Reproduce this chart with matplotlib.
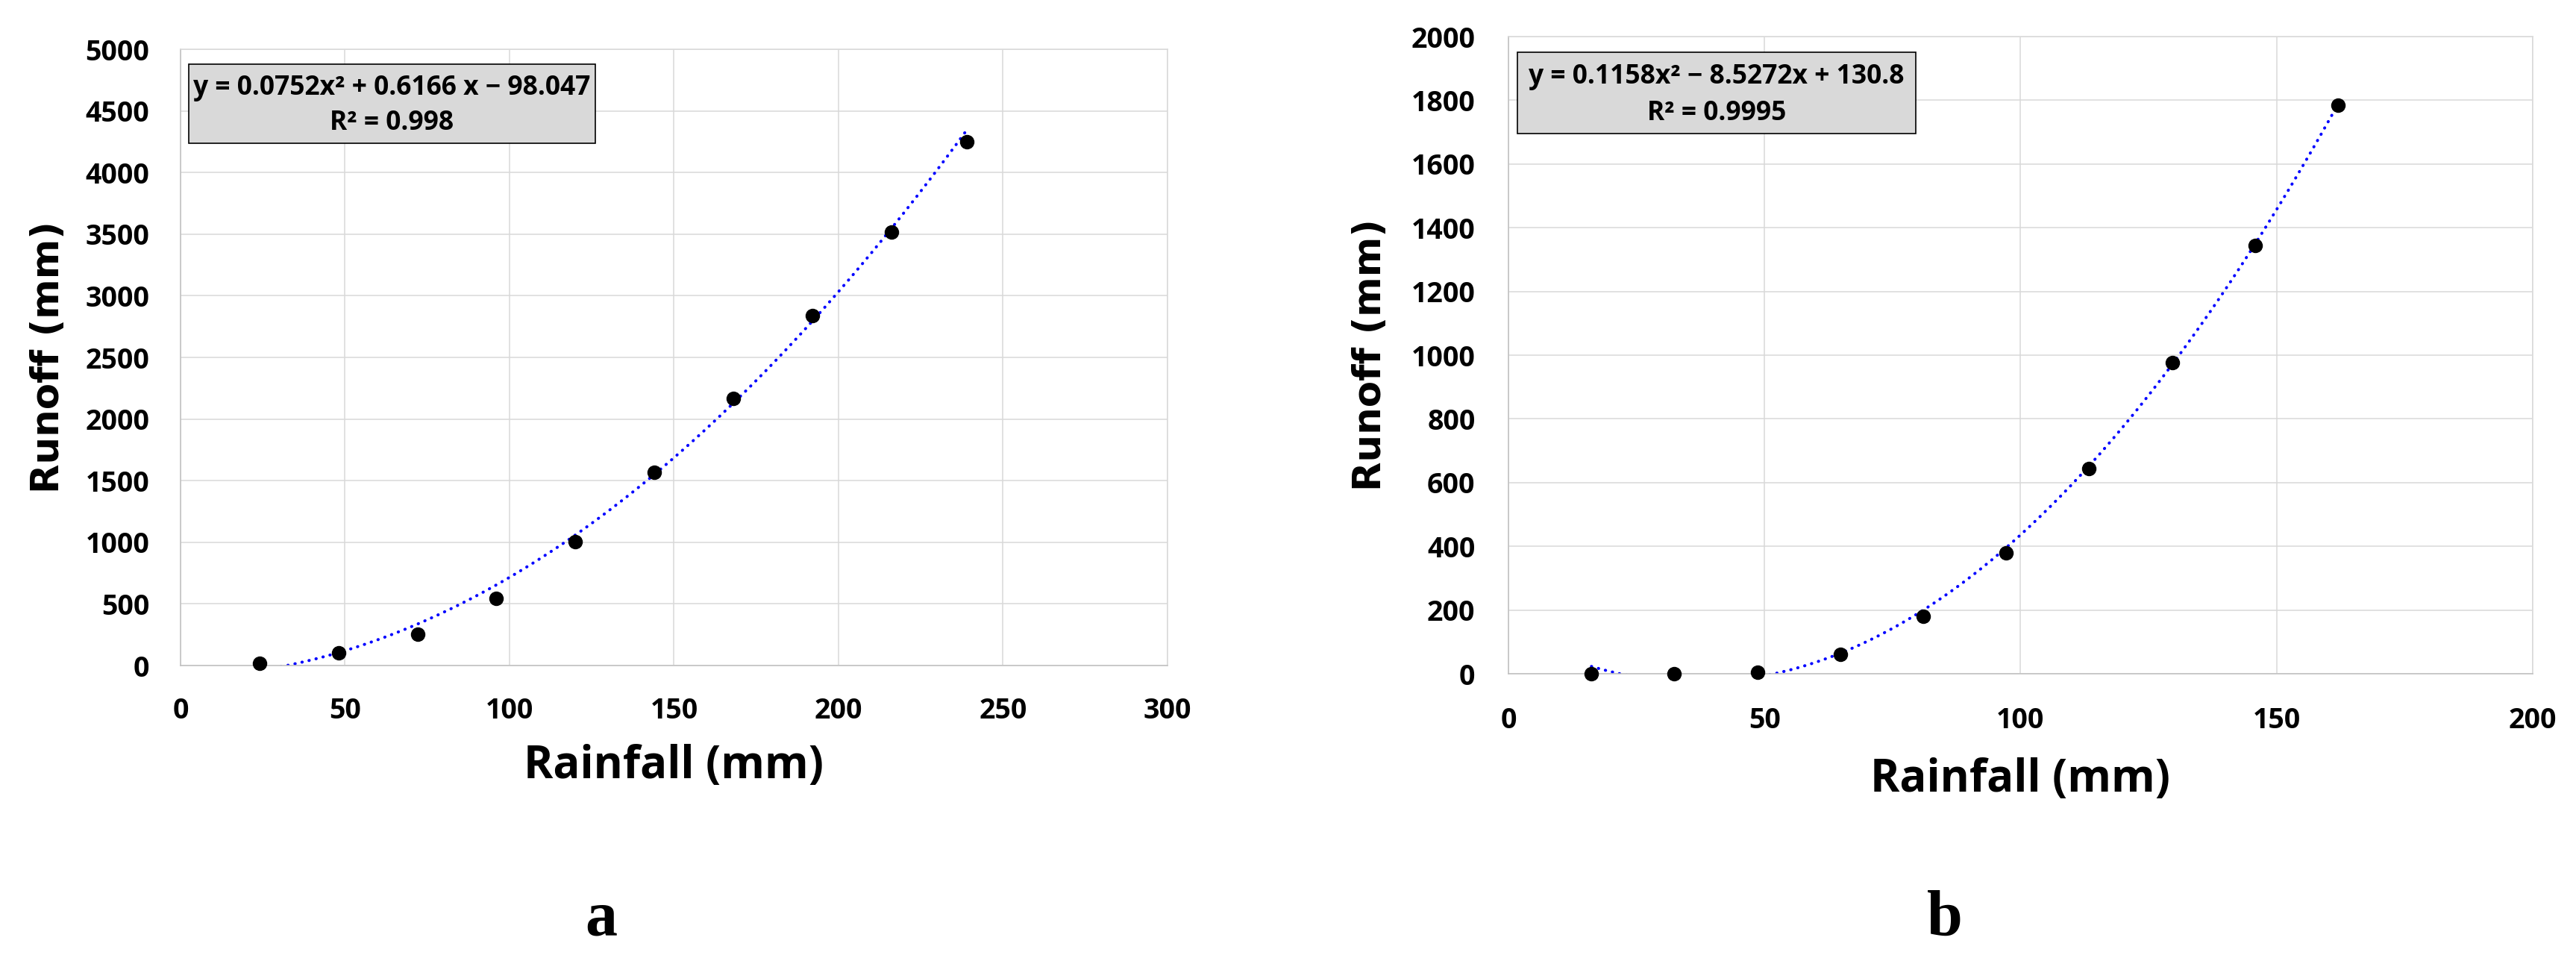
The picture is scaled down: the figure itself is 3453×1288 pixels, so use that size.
import numpy as np
import matplotlib
matplotlib.use('Agg')
import matplotlib.pyplot as plt
from matplotlib.patches import Rectangle

# panel a: rainfall vs runoff
rain_a = [24, 48, 72, 96, 120, 144, 168, 192, 216, 239]
runoff_a = [20, 104, 253, 547, 1004, 1566, 2167, 2838, 3519, 4250]
coef_a = [0.0752, 0.6166, -98.047]
eq_a = 'y = 0.0752x² + 0.6166 x − 98.047'
r2_a = 'R² = 0.998'

# panel b
rain_b = [16.2, 32.4, 48.6, 64.8, 81.0, 97.2, 113.4, 129.6, 145.8, 162.0]
runoff_b = [0, 0, 5, 60, 181, 379, 643, 976, 1345, 1784]
coef_b = [0.1158, -8.5272, 130.8]
eq_b = 'y = 0.1158x² − 8.5272x + 130.8'
r2_b = 'R² = 0.9995'

plt.rcParams['font.family'] = ['Open Sans', 'DejaVu Sans']

fig = plt.figure(figsize=(34.53, 12.88), dpi=100)

panels = [
    dict(pos=[0.07008, 0.30745, 0.38314, 0.64130], x=rain_a, y=runoff_a, coef=coef_a,
         eq=eq_a, r2=r2_a, xlim=(0, 300), xstep=50, ylim=(0, 5000), ystep=500,
         box=(0.0083, 0.8475, 0.4120, 0.1283), tx=0.2139, l1=0.937, l2=0.880,
         xlab_y=-0.1646, ylab_x=-0.1338, pad=30, letter='a', lx=806),
    dict(pos=[0.58558, 0.29891, 0.39762, 0.66304], x=rain_b, y=runoff_b, coef=coef_b,
         eq=eq_b, r2=r2_b, xlim=(0, 200), xstep=50, ylim=(0, 2000), ystep=200,
         box=(0.0087, 0.8478, 0.3890, 0.1276), tx=0.2032, l1=0.9368, l2=0.8794,
         xlab_y=-0.1663, ylab_x=-0.1347, pad=32, letter='b', lx=2607),
]

for p in panels:
    ax = fig.add_axes(p['pos'])
    ax.set_xlim(*p['xlim'])
    ax.set_ylim(*p['ylim'])
    ax.set_xticks(np.arange(p['xlim'][0], p['xlim'][1] + 1, p['xstep']))
    ax.set_yticks(np.arange(p['ylim'][0], p['ylim'][1] + 1, p['ystep']))
    ax.grid(True, color='#d9d9d9', linewidth=1.1)
    ax.set_axisbelow(True)
    for s in ['top', 'right']:
        ax.spines[s].set_color('#d9d9d9')
        ax.spines[s].set_linewidth(1.1)
    for s in ['left', 'bottom']:
        ax.spines[s].set_color('#bfbfbf')
        ax.spines[s].set_linewidth(1.1)
    ax.tick_params(length=0, labelsize=27, pad=p['pad'])
    for lab in ax.get_xticklabels() + ax.get_yticklabels():
        lab.set_fontweight('bold')

    # trend line from the fitted equation
    xs = np.linspace(min(p['x']), max(p['x']), 300)
    ax.plot(xs, np.polyval(p['coef'], xs), color='#0000ff', linewidth=2.9,
            linestyle=(0, (0.1, 2.3)), dash_capstyle='round', zorder=2)
    ax.plot(p['x'], p['y'], 'o', color='black', markersize=13, clip_on=False, zorder=3)

    bx, by, bw, bh = p['box']
    ax.add_patch(Rectangle((bx, by), bw, bh, transform=ax.transAxes,
                           facecolor='#d9d9d9', edgecolor='black', linewidth=1.2, zorder=4))
    ax.text(p['tx'], p['l1'], p['eq'], transform=ax.transAxes, ha='center', va='center',
            fontsize=25.5, fontweight='bold', zorder=5)
    ax.text(p['tx'], p['l2'], p['r2'], transform=ax.transAxes, ha='center', va='center',
            fontsize=25.5, fontweight='bold', zorder=5)

    ax.set_xlabel('Rainfall (mm)', fontsize=43, fontweight='bold', va='center')
    ax.xaxis.set_label_coords(0.5, p['xlab_y'])
    ax.set_ylabel('Runoff (mm)', fontsize=37, fontweight='bold', va='center',
                  family='DejaVu Sans')
    ax.yaxis.set_label_coords(p['ylab_x'], 0.5)

    fig.text(p['lx'] / 3453, 1 - 1253 / 1288, p['letter'], ha='center', va='baseline',
             fontsize=62, fontweight='bold', family='Liberation Serif')

fig.savefig('out.png', dpi=100)
